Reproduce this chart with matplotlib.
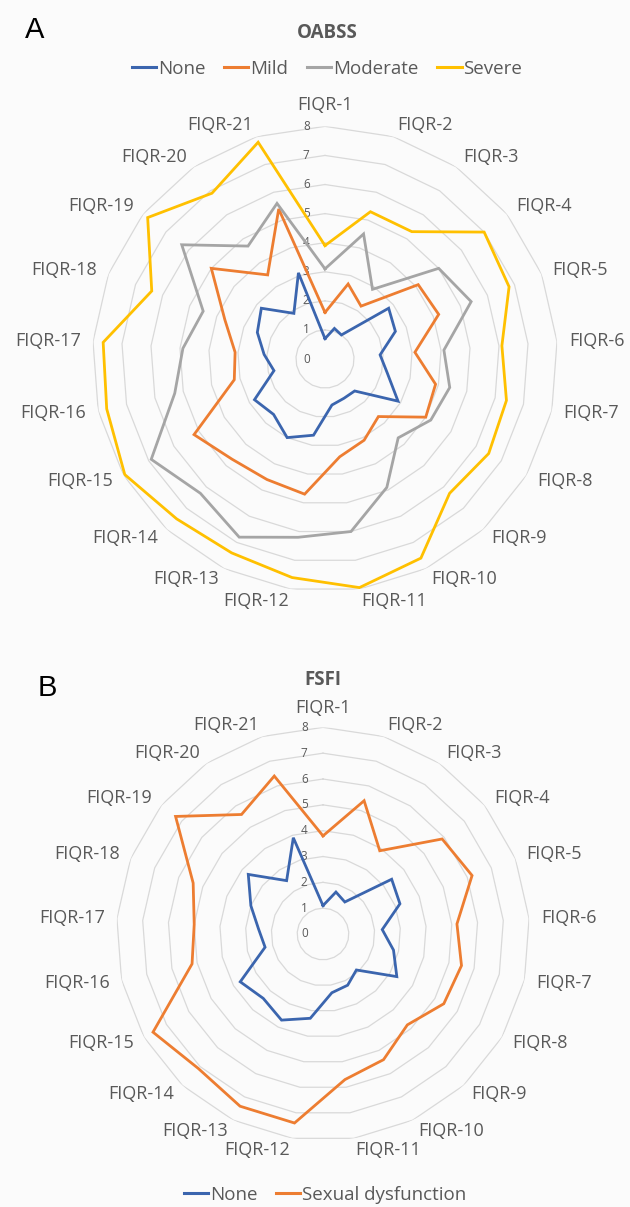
import numpy as np
import matplotlib
matplotlib.use("Agg")
import matplotlib.pyplot as plt
from matplotlib.lines import Line2D

plt.rcParams['font.family'] = ['Open Sans', 'DejaVu Sans']

categories = [f"FIQR-{i}" for i in range(1, 22)]
ring_ticks = [0, 1, 2, 3, 4, 5, 6, 7, 8]

# Panel A: OABSS groups
oabss_none = [0.7, 1.1, 1.0, 2.8, 2.6, 1.9, 2.2, 2.9, 1.5, 1.5, 1.6, 2.65, 3.0, 2.6, 2.8, 1.8, 2.1, 2.5, 2.8, 1.9, 3.1]
oabss_mild = [1.6, 2.7, 2.2, 4.1, 4.2, 3.1, 3.9, 4.0, 2.7, 3.1, 3.4, 4.7, 4.6, 4.7, 5.2, 3.2, 3.1, 3.7, 5.0, 3.5, 5.4]
oabss_moderate = [3.1, 4.5, 2.9, 5.0, 5.4, 4.1, 4.4, 4.2, 3.7, 4.9, 6.0, 6.2, 6.8, 6.3, 6.9, 5.3, 4.9, 4.5, 6.3, 4.7, 5.6]
oabss_severe = [3.9, 5.3, 5.3, 7.0, 6.8, 6.1, 6.4, 6.5, 6.3, 7.6, 7.95, 7.6, 7.4, 7.5, 7.95, 7.7, 7.65, 6.4, 7.8, 6.9, 7.8]
oabss_labels = ["None", "Mild", "Moderate", "Severe"]

# Panel B: FSFI groups
fsfi_none = [1.1, 1.7, 1.5, 3.4, 3.2, 2.3, 2.8, 3.3, 1.9, 2.2, 2.3, 3.3, 3.7, 3.4, 3.7, 2.3, 2.5, 3.0, 3.7, 2.5, 3.9]
fsfi_dysf = [3.8, 5.4, 3.9, 5.9, 6.2, 5.2, 5.5, 5.4, 4.8, 5.4, 5.7, 7.4, 7.4, 7.1, 7.6, 5.2, 5.0, 5.4, 7.3, 5.6, 6.4]
fsfi_labels = ["None", "Sexual dysfunction"]

c_blue = '#3b65ae'
c_orange = '#ed7d31'
c_gray = '#a5a5a5'
c_yellow = '#ffc000'
text_gray = '#595959'
grid_gray = '#d9d9d9'

W, H = 630, 1207
fig = plt.figure(figsize=(W / 100, H / 100), dpi=100)
fig.patch.set_facecolor('#fbfbfb')

n = len(categories)
theta = np.arange(n) * 2 * np.pi / n
theta_c = np.append(theta, theta[0])


def radar(cx, cy, unit, series, colors, top_pad=12.0):
    rad = 8 * unit
    ax = fig.add_axes([(cx - rad) / W, 1 - (cy + rad) / H, 2 * rad / W, 2 * rad / H],
                      projection='polar')
    ax.set_theta_zero_location('N')
    ax.set_theta_direction(-1)
    ax.set_ylim(0, 8)
    ax.set_xticks([])
    ax.set_yticks([])
    ax.grid(False)
    ax.spines['polar'].set_visible(False)
    ax.patch.set_alpha(0)
    for k in ring_ticks[1:]:
        ax.plot(theta_c, [k] * (n + 1), color=grid_gray, lw=0.9, zorder=1)
    for k in ring_ticks:
        ax.annotate(str(k), xy=(0, k), xytext=(-13.5, 0), textcoords='offset points',
                    ha='center', va='center', fontsize=8.5, color=text_gray, zorder=2)
    for vals, col in zip(series, colors):
        v = np.append(vals, vals[0])
        ax.plot(theta_c, v, color=col, lw=2.0, zorder=3, solid_joinstyle='miter')
    for t, lab in zip(theta, categories):
        s, c = np.sin(t), np.cos(t)
        rl = 8 + 12.0 / unit
        if abs(s) < 0.1:
            ha = 'center'
            va = 'bottom' if c > 0 else 'top'
            if c > 0:
                rl = 8 + top_pad / unit
        else:
            ha = 'left' if s > 0 else 'right'
            va = 'center'
        ax.text(t, rl, lab, ha=ha, va=va, fontsize=13, color=text_gray, clip_on=False)
    return ax


radar(325, 359, 29.08, [oabss_none, oabss_mild, oabss_moderate, oabss_severe],
      [c_blue, c_orange, c_gray, c_yellow])
radar(323, 934, 25.83, [fsfi_none, fsfi_dysf], [c_blue, c_orange], top_pad=10.0)

fig.text(327 / W, 1 - 33 / H, "OABSS", ha='center', va='center', fontsize=13.5,
         fontweight='bold', color=text_gray)
fig.text(323 / W, 1 - 680 / H, "FSFI", ha='center', va='center', fontsize=13.5,
         fontweight='bold', color=text_gray)
fig.text(35 / W, 1 - 30 / H, "A", ha='center', va='center', fontsize=21,
         family='Liberation Sans', color='black')
fig.text(47 / W, 1 - 688 / H, "B", ha='center', va='center', fontsize=21,
         family='Liberation Sans', color='black')

hA = [Line2D([], [], color=c, lw=2.2) for c in [c_blue, c_orange, c_gray, c_yellow]]
fig.legend(hA, oabss_labels, loc='center', bbox_to_anchor=(327 / W, 1 - 69 / H), ncol=4,
           frameon=False, fontsize=13.5, handlelength=1.3, handletextpad=0.1,
           columnspacing=1.0, labelcolor=text_gray)
hB = [Line2D([], [], color=c, lw=2.2) for c in [c_blue, c_orange]]
fig.legend(hB, fsfi_labels, loc='center', bbox_to_anchor=(325 / W, 1 - 1195 / H), ncol=2,
           frameon=False, fontsize=13.5, handlelength=1.3, handletextpad=0.1,
           columnspacing=1.0, labelcolor=text_gray, borderpad=0.1)

fig.savefig('out.png', dpi=100, facecolor=fig.get_facecolor())
